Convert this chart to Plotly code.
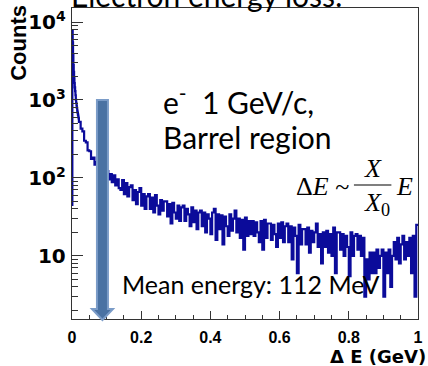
import numpy as np
import plotly.graph_objects as go

# ---------------- data ----------------
FINE_BIN_WIDTH = 0.001
FINE_COUNTS = [45, 7800, 5500, 3800, 2800, 2300, 1900, 1650, 1450, 1300,
               1150, 1000, 920, 850, 790, 730, 690, 650, 610, 580]

TAIL_START = 0.02
TAIL_BIN_WIDTH = 0.005
TAIL_COUNTS = [
    525, 430, 395, 300, 285, 225, 220, 175, 182, 148,      # 0.02-0.07
    160, 132, 150, 118, 138, 104, 122, 96, 112, 88,        # 0.07-0.12
    108, 80, 96, 74, 70, 94, 62, 86, 58, 76,               # 0.12-0.17
    80, 52, 70, 46, 66, 74, 44, 62, 40, 58,                # 0.17-0.22
    62, 40, 56, 36, 60, 44, 34, 52, 38, 50,                # 0.22-0.27
    50, 32, 46, 26, 48, 36, 30, 44, 28, 42,                # 0.27-0.32
    44, 28, 40, 34, 24, 42, 27, 38, 22, 36,                # 0.32-0.37
    38, 24, 36, 20, 34, 30, 19, 36, 40, 16,                # 0.37-0.42
    34, 22, 33, 14, 32, 24, 18, 34, 21, 30,                # 0.42-0.47
    38, 20, 30, 17, 29, 12, 31, 18, 28, 19,                # 0.47-0.52
    28, 18, 27, 20, 15, 28, 12, 29, 17, 26,                # 0.52-0.57
    26, 16, 25, 19, 13, 26, 17, 27, 15, 24,                # 0.57-0.62
    26, 15, 24, 9, 23, 18, 6, 25, 14, 22,                  # 0.62-0.67
    22, 14, 23, 11, 21, 15, 20, 26, 13, 19,                # 0.67-0.72
    8, 20, 13, 21, 11, 19, 10, 23, 6, 20,                  # 0.72-0.77
    20, 12, 19, 10, 18, 13, 5.5, 20, 10, 18,               # 0.77-0.82
    19, 12, 18, 10, 17, 3, 9, 5, 11, 6,                    # 0.82-0.87
    11, 6, 12, 7, 10, 12, 3, 11, 6, 12,                    # 0.87-0.92
    4, 10, 15, 9, 17, 8, 14, 18, 9, 15,                    # 0.92-0.97
    10, 17, 6, 18, 3, 25,                                  # 0.97-1.00
]
X_MAX = 1.0

ARROW_X = 0.088          # position of the "mean energy" arrow (GeV)

X_TICKS = [0, 0.2, 0.4, 0.6, 0.8, 1]
X_TICK_TEXT = ["0", "0.2", "0.4", "0.6", "0.8", "1"]

# --------------- build step histogram ---------------
fine_edges = np.arange(len(FINE_COUNTS)) * FINE_BIN_WIDTH
tail_edges = TAIL_START + np.arange(len(TAIL_COUNTS)) * TAIL_BIN_WIDTH
xs = np.concatenate([fine_edges, tail_edges, [X_MAX]])
ys = np.concatenate([FINE_COUNTS, TAIL_COUNTS, [TAIL_COUNTS[-1]]])

W, H = 428, 366
ML, MR, MT, MB = 72, 5, 8, 47
PW, PH = W - ML - MR, H - MT - MB


def px(x):
    return (x - ML) / PW


def py(y):
    return (H - MB - y) / PH


fig = go.Figure()
fig.add_trace(go.Scatter(
    x=xs, y=ys, mode="lines", line=dict(color="#0b0b9a", width=2.2, shape="hv"),
    hoverinfo="skip", showlegend=False))

AX_FONT = dict(family="Liberation Sans", size=16, color="black")

fig.update_layout(
    width=W, height=H,
    margin=dict(l=ML, r=MR, t=MT, b=MB, pad=0),
    paper_bgcolor="white", plot_bgcolor="white",
    showlegend=False,
    xaxis=dict(
        range=[0, 1], showgrid=False, zeroline=False,
        showline=True, linecolor="#333", linewidth=1, mirror=True,
        ticks="inside", ticklen=8, tickcolor="#333",
        tickvals=X_TICKS, ticktext=["<b>%s</b>" % t for t in X_TICK_TEXT],
        tickfont=AX_FONT, ticklabelstandoff=4,
        minor=dict(ticks="inside", ticklen=4, dtick=0.05, tickcolor="#333", showgrid=False),
    ),
    yaxis=dict(
        type="log", range=[0.19, 4.18], showgrid=False, zeroline=False,
        showline=True, linecolor="#333", linewidth=1, mirror=True,
        ticks="inside", ticklen=11, tickcolor="#333",
        dtick=1, exponentformat="power",
        tickfont=dict(family="DejaVu Sans", size=16, color="black", weight="bold"),
        ticklabelstandoff=2,
        minor=dict(ticks="inside", ticklen=6, dtick="D1", tickcolor="#333", showgrid=False),
    ),
)

# --------------- arrow (mean energy marker) ---------------
shaft_hw, head_hw = 5.5, 10.5
y_top, y_head, y_tip = py(100), py(309), py(320)
path = (f"M {-shaft_hw},{y_top} L {shaft_hw},{y_top} L {shaft_hw},{y_head} "
        f"L {head_hw},{y_head} L 0,{y_tip} L {-head_hw},{y_head} L {-shaft_hw},{y_head} Z")
fig.add_shape(type="path", path=path, xref="x", yref="paper", xsizemode="pixel",
              xanchor=ARROW_X, fillcolor="#4a72a3", line=dict(color="#7b9cc8", width=2),
              layer="above")

# --------------- texts ---------------
SANS = "Lato"
ann = []
ann.append(dict(text="Electron energy loss:", x=px(69), y=py(-5), xanchor="left", yanchor="middle",
                font=dict(family=SANS, size=30, color="black")))
ann.append(dict(text="e<sup>-</sup>&nbsp; 1 GeV/c,", x=px(162), y=py(100), xanchor="left", yanchor="middle",
                font=dict(family=SANS, size=30, color="black")))
ann.append(dict(text="Barrel region", x=px(162), y=py(137), xanchor="left", yanchor="middle",
                font=dict(family=SANS, size=30, color="black")))
ann.append(dict(text="Mean energy: 112 MeV", x=px(121), y=py(284), xanchor="left", yanchor="middle",
                font=dict(family=SANS, size=25, color="black")))

SERIF = dict(family="Liberation Serif", size=26, color="black")
ann.append(dict(text="Δ<i>E</i> ~", x=px(297), y=py(186), xanchor="left", yanchor="middle", font=SERIF))
ann.append(dict(text="<i>X</i>", x=px(377), y=py(169), xanchor="center", yanchor="middle", font=SERIF))
ann.append(dict(text="<i>X</i><sub>0</sub>", x=px(381), y=py(204), xanchor="center", yanchor="middle", font=SERIF))
ann.append(dict(text="<i>E</i>", x=px(399), y=py(186), xanchor="left", yanchor="middle", font=SERIF))

ann.append(dict(text="<b>Counts</b>", x=px(18), y=py(43), xanchor="center", yanchor="middle", textangle=-90,
                font=dict(family="Liberation Sans", size=22, color="black")))
ann.append(dict(text="<b>Δ E (GeV)</b>", x=px(425), y=py(356), xanchor="right", yanchor="middle",
                font=dict(family="DejaVu Sans", size=18, color="black"), xshift=8))

for a in ann:
    a.update(xref="paper", yref="paper", showarrow=False)
fig.update_layout(annotations=ann)

fig.add_shape(type="line", xref="paper", yref="paper", x0=px(358), x1=px(396), y0=py(185), y1=py(185),
              line=dict(color="black", width=1.2))

fig.write_html("out.html")
